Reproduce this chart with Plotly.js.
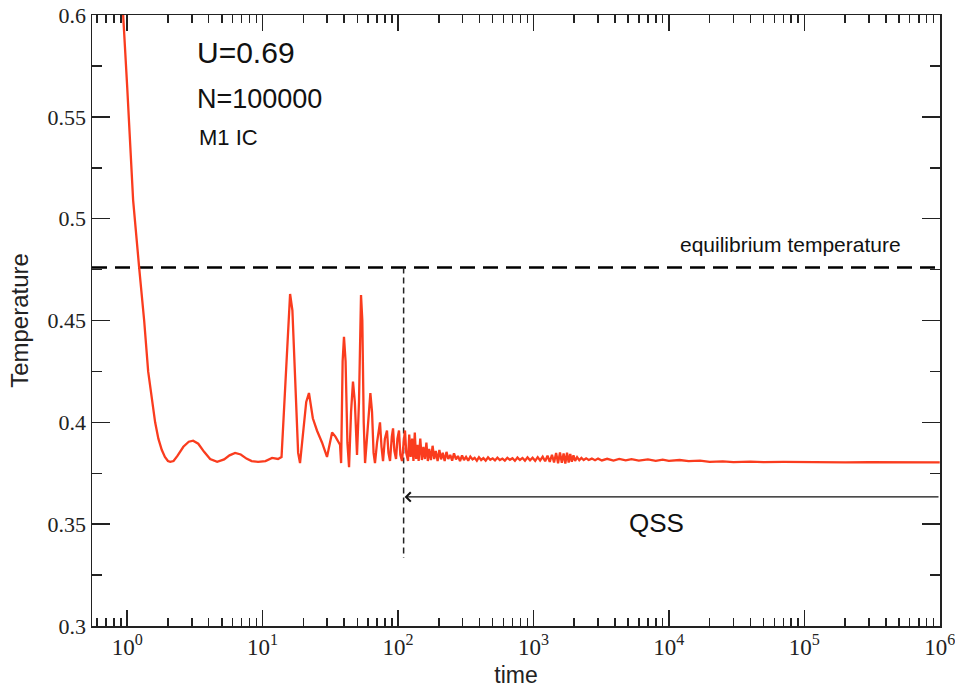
<!DOCTYPE html>
<html>
<head>
<meta charset="utf-8">
<script src="https://cdn.plot.ly/plotly-3.0.1.min.js"></script>
<style>html,body{margin:0;padding:0;background:#fff;}#chart{width:955px;height:690px;}</style>
</head>
<body>
<div id="chart"></div>
<script>
// ---- data ----
const time = [0.88, 0.934, 1.0, 1.107, 1.226, 1.335, 1.429, 1.52, 1.609, 1.7, 1.8, 1.9, 2.0, 2.08, 2.2, 2.35, 2.6, 2.85, 3.07, 3.35, 3.7, 4.1, 4.62, 5.2, 5.7, 6.27, 6.9, 7.6, 8.3, 9.26, 10.5, 11.75, 13.0, 13.8, 14.5, 15.3, 15.96, 16.6, 17.5, 18.3, 18.9, 20.0, 21.0, 22.0, 23.5, 25.2, 27.5, 29.9, 31.0, 32.6, 34.5, 36.1, 37.3, 38.0, 39.0, 39.9, 41.0, 42.3, 43.5, 45.0, 46.5, 48.0, 49.8, 51.5, 52.5, 53.3, 54.5, 55.8, 57.1, 59, 61, 62.5, 64.3, 66, 67.6, 70, 73.6, 75.5, 77.5, 80, 82.9, 85, 87.3, 90, 91.9, 94, 96.7, 99, 101.7, 104, 107, 110, 112.6, 115, 118.5, 121, 124, 127, 130, 133, 136, 139, 142, 146, 150, 154, 158, 162, 166, 170, 175, 180, 185, 190, 196, 202, 208, 214, 221, 228, 235, 243, 251, 259, 268, 277, 287, 297, 307, 318, 330, 342, 355, 368, 382, 396, 411, 427, 444, 462, 480, 500, 520, 542, 565, 590, 615, 642, 670, 700, 730, 762, 795, 830, 866, 904, 944, 985, 1030, 1075, 1120, 1170, 1220, 1270, 1320, 1370, 1420, 1470, 1520, 1570, 1620, 1670, 1720, 1770, 1820, 1870, 1920, 1975, 2030, 2100, 2180, 2260, 2350, 2450, 2560, 2700, 2850, 3000, 3200, 3500, 3900, 4300, 4800, 5300, 6000, 7000, 8000, 9000, 10000, 12000, 14000, 17000, 20000, 25000, 30000, 40000, 50000, 70000, 100000, 150000, 200000, 300000, 500000, 700000, 1000000];
const temperature = [0.64, 0.6, 0.565, 0.509, 0.476, 0.450, 0.425, 0.411, 0.400, 0.392, 0.3865, 0.383, 0.381, 0.3806, 0.381, 0.3835, 0.388, 0.3905, 0.391, 0.3895, 0.3855, 0.382, 0.3806, 0.3818, 0.3838, 0.385, 0.3842, 0.3822, 0.381, 0.3806, 0.381, 0.3825, 0.382, 0.383, 0.41, 0.445, 0.463, 0.455, 0.415, 0.385, 0.380, 0.395, 0.410, 0.4144, 0.402, 0.396, 0.390, 0.383, 0.388, 0.395, 0.393, 0.391, 0.389, 0.380, 0.43, 0.442, 0.43, 0.39, 0.378, 0.405, 0.420, 0.41, 0.384, 0.41, 0.45, 0.4625, 0.45, 0.40, 0.380, 0.395, 0.405, 0.4144, 0.405, 0.385, 0.380, 0.39, 0.400, 0.388, 0.381, 0.392, 0.396, 0.385, 0.381, 0.393, 0.397, 0.386, 0.382, 0.392, 0.396, 0.384, 0.381, 0.390, 0.396, 0.385, 0.381, 0.394, 0.383, 0.392, 0.381, 0.395, 0.382, 0.389, 0.381, 0.392, 0.3815, 0.388, 0.382, 0.390, 0.381, 0.387, 0.3815, 0.3885, 0.382, 0.386, 0.381, 0.3865, 0.3818, 0.385, 0.381, 0.3855, 0.382, 0.384, 0.3812, 0.3848, 0.3818, 0.3835, 0.381, 0.3838, 0.3815, 0.383, 0.3812, 0.3832, 0.3818, 0.3826, 0.3812, 0.3829, 0.3815, 0.3824, 0.3812, 0.3828, 0.3816, 0.3823, 0.3813, 0.3827, 0.3815, 0.3822, 0.3812, 0.3826, 0.3816, 0.3824, 0.3811, 0.3827, 0.3815, 0.3825, 0.3812, 0.3828, 0.3814, 0.3826, 0.3811, 0.3829, 0.3813, 0.3831, 0.3809, 0.3836, 0.3806, 0.3841, 0.3803, 0.3849, 0.3799, 0.3852, 0.3801, 0.3847, 0.3798, 0.3851, 0.3803, 0.3845, 0.3806, 0.3838, 0.3811, 0.3829, 0.3814, 0.3825, 0.3815, 0.3823, 0.3815, 0.3822, 0.3814, 0.3822, 0.3813, 0.3821, 0.3812, 0.382, 0.3813, 0.3819, 0.3812, 0.3818, 0.3811, 0.3817, 0.3811, 0.3815, 0.381, 0.3812, 0.3806, 0.3808, 0.3805, 0.3807, 0.3805, 0.3806, 0.3804, 0.3805, 0.3803, 0.3804, 0.3803, 0.3804, 0.3803];

const eqTemperature = 0.476;
const qssStart = 110;
const qssMarkerBottom = 0.3334;
const qssArrowY = 0.3634;
const xTickVals = [1, 10, 100, 1000, 10000, 100000, 1000000];
const xTickText = ['10<sup>0</sup>', '10<sup>1</sup>', '10<sup>2</sup>', '10<sup>3</sup>', '10<sup>4</sup>', '10<sup>5</sup>', '10<sup>6</sup>'];
const yTickVals = [0.3, 0.35, 0.4, 0.45, 0.5, 0.55, 0.6];
const yTickText = ['0.3', '0.35', '0.4', '0.45', '0.5', '0.55', '0.6'];
const xRange = [0.55, 1000000];
const yRange = [0.3, 0.6];

const sans = 'Liberation Sans';
const serif = 'Liberation Serif';

const traces = [
  {
    x: [xRange[0], xRange[1]], y: [eqTemperature, eqTemperature],
    mode: 'lines', line: {color: '#000', width: 2.5, dash: '15px,8px'},
    hoverinfo: 'skip', showlegend: false
  },
  {
    x: [qssStart, qssStart], y: [eqTemperature, qssMarkerBottom],
    mode: 'lines', line: {color: '#222', width: 1.5, dash: '6px,4px'},
    hoverinfo: 'skip', showlegend: false
  },
  {
    x: time, y: temperature, mode: 'lines',
    line: {color: '#fa3c1e', width: 2.3},
    showlegend: false
  }
];

const layout = {
  width: 955, height: 690,
  margin: {l: 92, r: 15, t: 15, b: 64},
  paper_bgcolor: '#fff', plot_bgcolor: '#fff',
  font: {family: serif, size: 21, color: '#222'},
  showlegend: false,
  xaxis: {
    type: 'log', range: [Math.log10(xRange[0]), Math.log10(xRange[1]) + 0.002],
    tickmode: 'array', tickvals: xTickVals, ticktext: xTickText,
    ticks: 'inside', ticklen: 16, tickwidth: 1.5, tickcolor: '#222',
    minor: {ticks: 'inside', ticklen: 8, tickwidth: 1.5, tickcolor: '#222', dtick: 'D1', showgrid: false},
    showline: true, linecolor: '#222', linewidth: 1.5, mirror: 'allticks',
    showgrid: false, zeroline: false, ticklabeloverflow: 'allow',
    tickfont: {family: serif, size: 23, color: '#222'},
    title: {text: 'time', font: {family: sans, size: 23, color: '#222'}, standoff: 8}
  },
  yaxis: {
    range: yRange,
    tickmode: 'array', tickvals: yTickVals, ticktext: yTickText,
    ticks: 'inside', ticklen: 18, tickwidth: 1.5, tickcolor: '#222',
    minor: {ticks: 'inside', ticklen: 10, tickwidth: 1.5, tickcolor: '#222', dtick: 0.025, showgrid: false},
    showline: true, linecolor: '#222', linewidth: 1.5, mirror: 'allticks',
    showgrid: false, zeroline: false, ticklabeloverflow: 'allow',
    tickfont: {family: serif, size: 22, color: '#222'},
    title: {text: 'Temperature', font: {family: sans, size: 24, color: '#222'}, standoff: 12}
  },
  annotations: [
    {xref: 'paper', yref: 'paper', x: 0.121, y: 0.938, xanchor: 'left', yanchor: 'middle', showarrow: false,
     text: 'U=0.69', font: {family: sans, size: 30, color: '#111'}},
    {xref: 'paper', yref: 'paper', x: 0.121, y: 0.863, xanchor: 'left', yanchor: 'middle', showarrow: false,
     text: 'N=100000', font: {family: sans, size: 27, color: '#111'}},
    {xref: 'paper', yref: 'paper', x: 0.124, y: 0.799, xanchor: 'left', yanchor: 'middle', showarrow: false,
     text: 'M1 IC', font: {family: sans, size: 22, color: '#111'}},
    {xref: 'paper', yref: 'paper', x: 0.956, y: 0.624, xanchor: 'right', yanchor: 'middle', showarrow: false,
     text: 'equilibrium temperature', font: {family: sans, size: 21, color: '#111'}},
    {xref: 'paper', yref: 'paper', x: 0.666, y: 0.168, xanchor: 'center', yanchor: 'middle', showarrow: false,
     text: 'QSS', font: {family: sans, size: 26, color: '#111'}},
    {xref: 'x', yref: 'y', x: Math.log10(qssStart), y: qssArrowY,
     axref: 'x', ayref: 'y', ax: Math.log10(xRange[1]) + 0.002, ay: qssArrowY,
     showarrow: true, arrowhead: 4, arrowsize: 1.3, arrowwidth: 1.4, arrowcolor: '#111', standoff: 1, text: ''}
  ]
};

Plotly.newPlot('chart', traces, layout, {staticPlot: true, displayModeBar: false});
</script>
</body>
</html>
